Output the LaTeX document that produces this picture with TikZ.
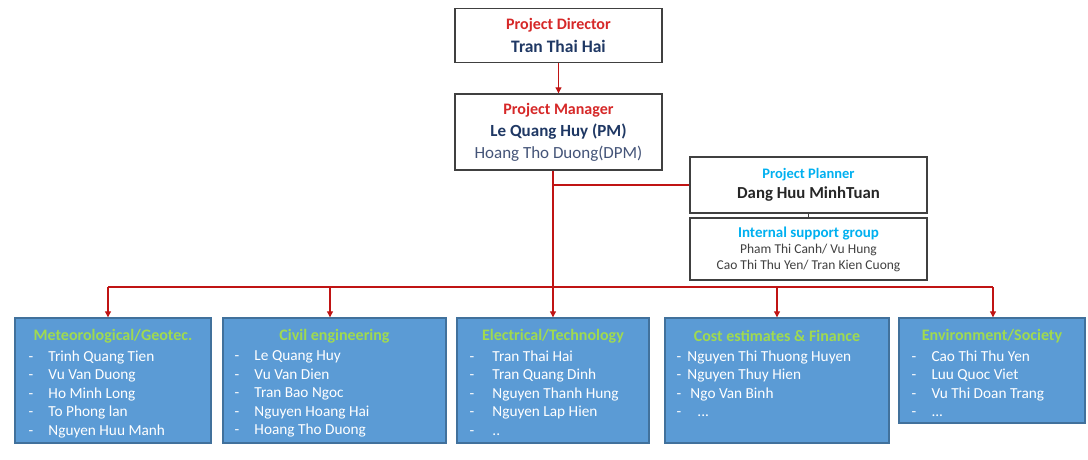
\documentclass[tikz,border=0pt]{standalone}
\usepackage{fontspec}
\setmainfont{Carlito}
\usepackage{xcolor}
\usetikzlibrary{arrows.meta,positioning}

\definecolor{titlered}{RGB}{214,40,40}
\definecolor{namenavy}{RGB}{31,56,100}
\definecolor{deputygray}{RGB}{68,84,120}
\definecolor{plannercyan}{RGB}{0,176,240}
\definecolor{teamblue}{RGB}{91,155,213}
\definecolor{teamborder}{RGB}{65,113,156}
\definecolor{teamgreen}{RGB}{160,218,80}
\definecolor{linkred}{RGB}{192,20,20}

\newcommand{\member}[2][20pt]{\makebox[#1][l]{-}#2}

\begin{document}
\begin{tikzpicture}[x=1pt, y=1pt,
  topbox/.style={draw=black!75, line width=1.4pt, fill=white, inner sep=0pt, align=center},
  teambox/.style={draw=teamborder, line width=1.4pt, fill=teamblue, inner sep=0pt, minimum height=125pt},
  teamhead/.style={font=\fontsize{16}{19}\selectfont\bfseries, text=teamgreen, inner sep=0pt},
  teamlist/.style={font=\fontsize{15.3}{18.6}\selectfont, text=white, align=left, inner sep=0pt, anchor=north west},
  link/.style={draw=linkred, line width=1.1pt},
  tip/.style={-{Triangle[length=6pt,width=6pt]}}
]
\useasboundingbox (0,0) rectangle (1088,459);

% Management
\node[
    topbox,
    minimum width=207pt,
    minimum height=54pt,
    font=\fontsize{17.5}{23}\selectfont
] (director) at (558.5,423.5) {{\color{titlered}\fontsize{16}{20}\selectfont\bfseries Project Director}\\
  {\color{namenavy}\bfseries Tran Thai Hai}};

\node[
    topbox,
    minimum width=207pt,
    minimum height=76pt,
    font=\fontsize{17}{22}\selectfont
] (manager) at (558.5,327) {{\color{titlered}\fontsize{16}{20}\selectfont\bfseries Project Manager}\\
  {\color{namenavy}\bfseries Le Quang Huy (PM)}\\
  {\color{deputygray}Hoang Tho Duong(DPM)}};

% Planning and support
\node[
    topbox,
    minimum width=237pt,
    minimum height=56pt,
    font=\fontsize{16.8}{19.5}\selectfont
] (planner) at (808.5,274) {{\color{plannercyan}\fontsize{14.5}{18}\selectfont\bfseries Project Planner}\\
  {\color{black!85}\bfseries Dang Huu MinhTuan}};

\node[
    topbox,
    minimum width=237pt,
    minimum height=62pt,
    font=\fontsize{13.5}{16}\selectfont
] (support) at (808.5,210) {{\color{plannercyan}\fontsize{15}{17}\selectfont\bfseries Internal support group}\\
  {\color{black!75}Pham Thi Canh/ Vu Hung}\\
  {\color{black!75}Cao Thi Thu Yen/ Tran Kien Cuong}};

% Teams
\node[teambox, minimum width=196pt] (met) at (113,78.5) {};
\node[teamhead] (methead) at ([yshift=-19pt]met.north) {Meteorological/Geotec.};
\node[teamlist] (metlist) at ([xshift=14pt,yshift=-33pt]met.north west) {\member{Trinh Quang Tien}\\
  \member{Vu Van Duong}\\ \member{Ho Minh Long}\\ \member{To Phong lan}\\ \member{Nguyen Huu Manh}};

\node[teambox, minimum width=223pt] (civil) at (334.5,78.5) {};
\node[teamhead] (civilhead) at ([yshift=-19pt]civil.north) {Civil engineering};
\node[teamlist] (civillist) at ([xshift=12pt,yshift=-33pt]civil.north west) {\member{Le Quang Huy}\\
  \member{Vu Van Dien}\\ \member{Tran Bao Ngoc}\\ \member{Nguyen Hoang Hai}\\ \member{Hoang Tho Duong}};

\node[teambox, minimum width=192pt] (elec) at (553,78.5) {};
\node[teamhead] (elechead) at ([yshift=-19pt]elec.north) {Electrical/Technology};
\node[teamlist] (eleclist) at ([xshift=13pt,yshift=-33pt]elec.north west) {\member[23pt]{Tran Thai Hai}\\
  \member[23pt]{Tran Quang Dinh}\\ \member[23pt]{Nguyen Thanh Hung}\\ \member[23pt]{Nguyen Lap Hien}\\ \member[23pt]{..}};

\node[teambox, minimum width=224pt] (cost) at (777,78.5) {};
\node[teamhead] (costhead) at ([yshift=-19pt]cost.north) {Cost estimates \& Finance};
\node[teamlist] (costlist) at ([xshift=12pt,yshift=-33pt]cost.north west) {\member[11pt]{Nguyen Thi Thuong Huyen}\\
  \member[11pt]{Nguyen Thuy Hien}\\ \member[11pt]{\hspace{3pt}Ngo Van Binh}\\ \member[11pt]{\hspace{10pt}...}};

\node[teambox, minimum width=186pt, minimum height=105pt] (env) at (992,88.5) {};
\node[teamhead] (envhead) at ([yshift=-19pt]env.north) {Environment/Society};
\node[teamlist] (envlist) at ([xshift=13pt,yshift=-33pt]env.north west) {\member{Cao Thi Thu Yen}\\
  \member{Luu Quoc Viet}\\ \member{Vu Thi Doan Trang}\\ \member{...}};

% Links
\coordinate (stem) at (553,172);
\coordinate (bus west) at (108,172);
\coordinate (bus east) at (993,172);

\draw[link, tip] (director) -- (manager);
\draw[link, tip] (manager.south -| stem) -- (elec.north -| stem);
\draw[link] (planner.west -| stem) -- (planner.west);
\draw[black!75, line width=1.2pt] (planner) -- (support);
\draw[link] (bus west) -- (bus east);
\foreach \team/\x in {met/108, civil/330, cost/777, env/993}{
  \coordinate (drop-\team) at (\x,172);
  \draw[link, tip] (drop-\team) -- (drop-\team |- \team.north);
}
\end{tikzpicture}
\end{document}
